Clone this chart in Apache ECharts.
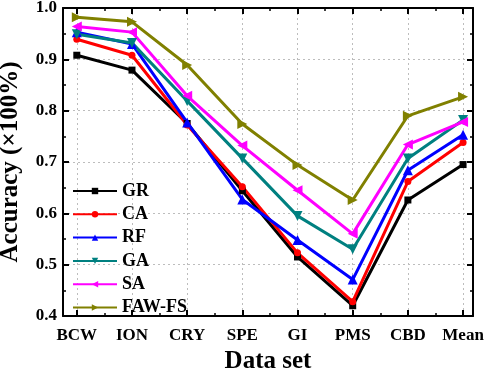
<!DOCTYPE html>
<html>
<head>
<meta charset="utf-8">
<script src="https://cdn.jsdelivr.net/npm/echarts@6/dist/echarts.min.js"></script>
<style>
  html, body { margin: 0; padding: 0; background: #fff; }
  #chart { width: 484px; height: 370px; }
</style>
</head>
<body>
<div id="chart"></div>
<script>
// 데이터셋 이름
const datasets = ['BCW', 'ION', 'CRY', 'SPE', 'GI', 'PMS', 'CBD', 'Mean'];

// 방법별 정확도
const GR    = [0.908, 0.879, 0.775, 0.644, 0.515, 0.420, 0.626, 0.695];
const CA    = [0.939, 0.908, 0.772, 0.652, 0.523, 0.428, 0.662, 0.738];
const RF    = [0.953, 0.930, 0.777, 0.627, 0.548, 0.471, 0.684, 0.753];
const GA    = [0.949, 0.932, 0.819, 0.707, 0.595, 0.530, 0.707, 0.782];
const SA    = [0.964, 0.953, 0.829, 0.732, 0.645, 0.560, 0.734, 0.778];
const FAWFS = [0.982, 0.973, 0.889, 0.774, 0.694, 0.626, 0.790, 0.827];

const yTicks = [0.4, 0.5, 0.6, 0.7, 0.8, 0.9, 1.0];

const majorX = datasets.map((d, i) => i + 1);
const minorX = datasets.slice(1).map((d, i) => i + 1.5);

const font = 'Liberation Serif';
const chart = echarts.init(document.getElementById('chart'));

function mkSeries(name, vals, color, symbol, rotate, size) {
    return {
        name: name,
        type: 'line',
        data: vals.map((v, i) => [i + 1, v]),
        symbol: symbol,
        symbolRotate: rotate,
        symbolSize: size,
        lineStyle: { color: color, width: 3 },
        itemStyle: { color: color },
        xAxisIndex: 0,
        yAxisIndex: 0,
        z: 5
    };
}

const xRange = { min: 0.75, max: 8.18 };
const grid = { color: '#bdbdbd', type: [2, 3], width: 1 };

const option = {
    animation: false,
    grid: { left: 63, right: 11, top: 8, bottom: 54, outerBoundsMode: 'none', containLabel: false },
    legend: {
        orient: 'vertical',
        left: 67,
        top: 177,
        itemWidth: 44,
        itemHeight: 8,
        itemGap: 5.3,
        textStyle: { fontFamily: font, fontWeight: 'bold', fontSize: 18, color: '#000', lineHeight: 18 },
        data: ['GR', 'CA', 'RF', 'GA', 'SA', 'FAW-FS']
    },
    xAxis: [
        {
            type: 'value', position: 'bottom', ...xRange,
            name: 'Data set', nameLocation: 'middle', nameGap: 33,
            nameTextStyle: { fontFamily: font, fontWeight: 'bold', fontSize: 25, color: '#000' },
            axisLine: { lineStyle: { color: '#000', width: 2 } },
            axisTick: { inside: true, length: 6, customValues: majorX, lineStyle: { color: '#000', width: 2 } },
            axisLabel: {
                customValues: majorX, margin: 11,
                fontFamily: font, fontWeight: 'bold', fontSize: 17, color: '#000',
                formatter: v => datasets[Math.round(v) - 1] || ''
            },
            splitLine: { show: true, lineStyle: grid }
        },
        {
            type: 'value', position: 'bottom', ...xRange,
            axisLine: { show: false },
            axisTick: { inside: true, length: 3, customValues: minorX, lineStyle: { color: '#000', width: 1.5 } },
            axisLabel: { show: false },
            splitLine: { show: false }
        },
        {
            type: 'value', position: 'top', ...xRange,
            axisLine: { lineStyle: { color: '#000', width: 2 } },
            axisTick: { inside: true, length: 6, customValues: majorX, lineStyle: { color: '#000', width: 2 } },
            axisLabel: { show: false },
            splitLine: { show: false }
        },
        {
            type: 'value', position: 'top', ...xRange,
            axisLine: { show: false },
            axisTick: { inside: true, length: 3, customValues: minorX, lineStyle: { color: '#000', width: 1.5 } },
            axisLabel: { show: false },
            splitLine: { show: false }
        }
    ],
    yAxis: [
        {
            type: 'value', position: 'left', min: 0.4, max: 1.0, interval: 0.1,
            name: 'Accuracy (×100%)', nameLocation: 'middle', nameGap: 40,
            nameTextStyle: { fontFamily: font, fontWeight: 'bold', fontSize: 25, color: '#000' },
            axisLine: { show: true, lineStyle: { color: '#000', width: 2 } },
            axisTick: { show: true, inside: true, length: 6, lineStyle: { color: '#000', width: 2 } },
            minorTick: { show: true, splitNumber: 2, length: 3, lineStyle: { color: '#000', width: 1.5 } },
            axisLabel: {
                margin: 6, fontFamily: font, fontWeight: 'bold', fontSize: 17, color: '#000',
                formatter: v => yTicks.find(t => Math.abs(t - v) < 1e-6)?.toFixed(1) ?? ''
            },
            splitLine: { show: true, lineStyle: grid }
        },
        {
            type: 'value', position: 'right', min: 0.4, max: 1.0, interval: 0.1,
            axisLine: { show: true, lineStyle: { color: '#000', width: 2 } },
            axisTick: { show: true, inside: true, length: 6, lineStyle: { color: '#000', width: 2 } },
            minorTick: { show: true, splitNumber: 2, length: 3, lineStyle: { color: '#000', width: 1.5 } },
            axisLabel: { show: false },
            splitLine: { show: false }
        }
    ],
    series: [
        mkSeries('GR', GR, '#000000', 'rect', 0, 7),
        mkSeries('CA', CA, '#ff0000', 'circle', 0, 7),
        mkSeries('RF', RF, '#0000ff', 'triangle', 0, 10),
        mkSeries('GA', GA, '#008080', 'triangle', 180, 10),
        mkSeries('SA', SA, '#ff00ff', 'triangle', 90, 10),
        mkSeries('FAW-FS', FAWFS, '#808000', 'triangle', -90, 10)
    ]
};

chart.setOption(option);
</script>
</body>
</html>
